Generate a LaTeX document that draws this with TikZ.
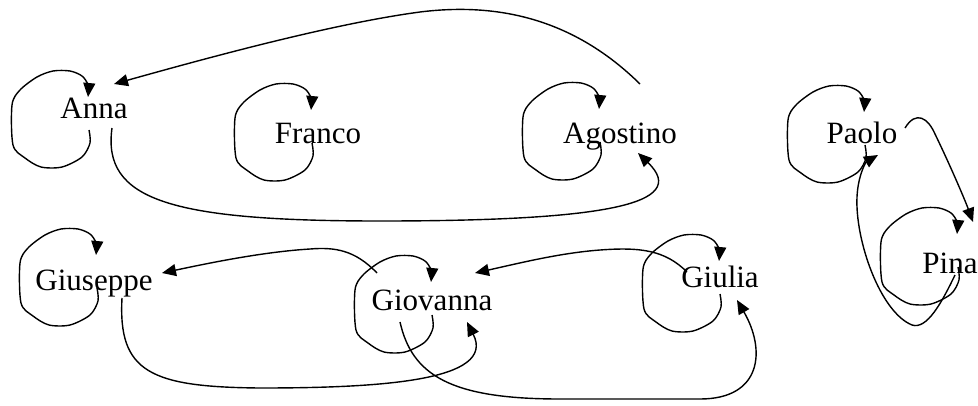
\documentclass[tikz,border=0pt]{standalone}
\usepackage{fontspec}
\setmainfont{Liberation Serif}
\usetikzlibrary{arrows.meta,calc}

\tikzset{
  person/.style={inner sep=0pt, anchor=base, font=\fontsize{31}{36}\selectfont},
  edge/.style={line width=1.4pt, line join=round,
               -{Triangle[length=14pt,width=12pt]}},
}

% loop on the left of a name; #2,#3 place the gap of the loop from the base point
\newcommand\ownloop[3]{%
  \begin{scope}[shift={($(#1.base)+(#2,#3)$)}]
    \draw[edge] plot[smooth, tension=0.5] coordinates {
      (0,17) (1,30) (-7,44) (-27,54) (-48,54) (-64,45) (-76,32)
      (-77,-8) (-69,-23) (-52,-36) (-36,-42) (-19,-42) (-7,-37)
      (-1,-28) (-1,-16)};
  \end{scope}}

\begin{document}
\begin{tikzpicture}[x=1pt, y=-1pt]
  \useasboundingbox (0,0) rectangle (978,405);

  % names
  \node[person] (anna)     at (94,118)  {Anna};
  \node[person] (franco)   at (318,143) {Franco};
  \node[person] (agostino) at (620,143) {Agostino};
  \node[person] (paolo)    at (862,143) {Paolo};
  \node[person] (pina)     at (950,273) {Pina};
  \node[person] (giuseppe) at (94,290)  {Giuseppe};
  \node[person] (giovanna) at (432,310) {Giovanna};
  \node[person] (giulia)   at (720,287) {Giulia};

  % loops
  \ownloop{anna}{-5}{-5}
  \ownloop{franco}{-6}{-17}
  \ownloop{agostino}{-20}{-18}
  \ownloop{paolo}{3}{-15}
  \ownloop{pina}{8}{-23}
  \ownloop{giuseppe}{3}{-19}
  \ownloop{giovanna}{0}{-12}
  \ownloop{giulia}{0}{-10}

  % Agostino -> Anna (upper arc)
  \draw[edge] ([shift={(20,-59)}]agostino.base)
    .. controls (575,20) and (500,2) .. (420,12)
    .. controls (330,24) and (200,60) .. ([shift={(20,-34)}]anna.base);

  % Anna -> Agostino (lower arc)
  \draw[edge] ([shift={(18,10)}]anna.base)
    .. controls (102,200) and (170,221) .. (380,221)
    .. controls (600,221) and (692,205) .. ([shift={(18,10)}]agostino.base);

  % Paolo -> Pina
  \draw[edge] ([shift={(43,-15)}]paolo.base)
    .. controls (916,110) and (928,118) .. (935,134)
    .. controls (950,165) and (965,200) .. ([shift={(23,-51)}]pina.base);

  % Pina -> Paolo
  \draw[edge] ([shift={(5,2)}]pina.base)
    .. controls (942,302) and (927,330) .. (912,325)
    .. controls (880,312) and (855,240) .. (857,197)
    .. controls (858,175) and (866,162) .. ([shift={(16,12)}]paolo.base);

  % Giovanna -> Giuseppe
  \draw[edge] ([shift={(-55,-37)}]giovanna.base)
    .. controls (355,250) and (335,247) .. (310,249)
    .. controls (260,252) and (200,265) .. ([shift={(68,-17)}]giuseppe.base);

  % Giuseppe -> Giovanna
  \draw[edge] ([shift={(28,8)}]giuseppe.base)
    .. controls (118,372) and (150,387) .. (260,388)
    .. controls (380,388) and (497,381) .. ([shift={(35,12)}]giovanna.base);

  % Giulia -> Giovanna
  \draw[edge] ([shift={(-33,-15)}]giulia.base)
    .. controls (665,250) and (640,247) .. (600,250)
    .. controls (560,253) and (520,263) .. ([shift={(43,-37)}]giovanna.base);

  % Giovanna -> Giulia
  \draw[edge] ([shift={(-32,12)}]giovanna.base)
    .. controls (412,375) and (450,399) .. (560,399)
    -- (700,399)
    .. controls (762,399) and (766,350) .. ([shift={(17,13)}]giulia.base);
\end{tikzpicture}
\end{document}
